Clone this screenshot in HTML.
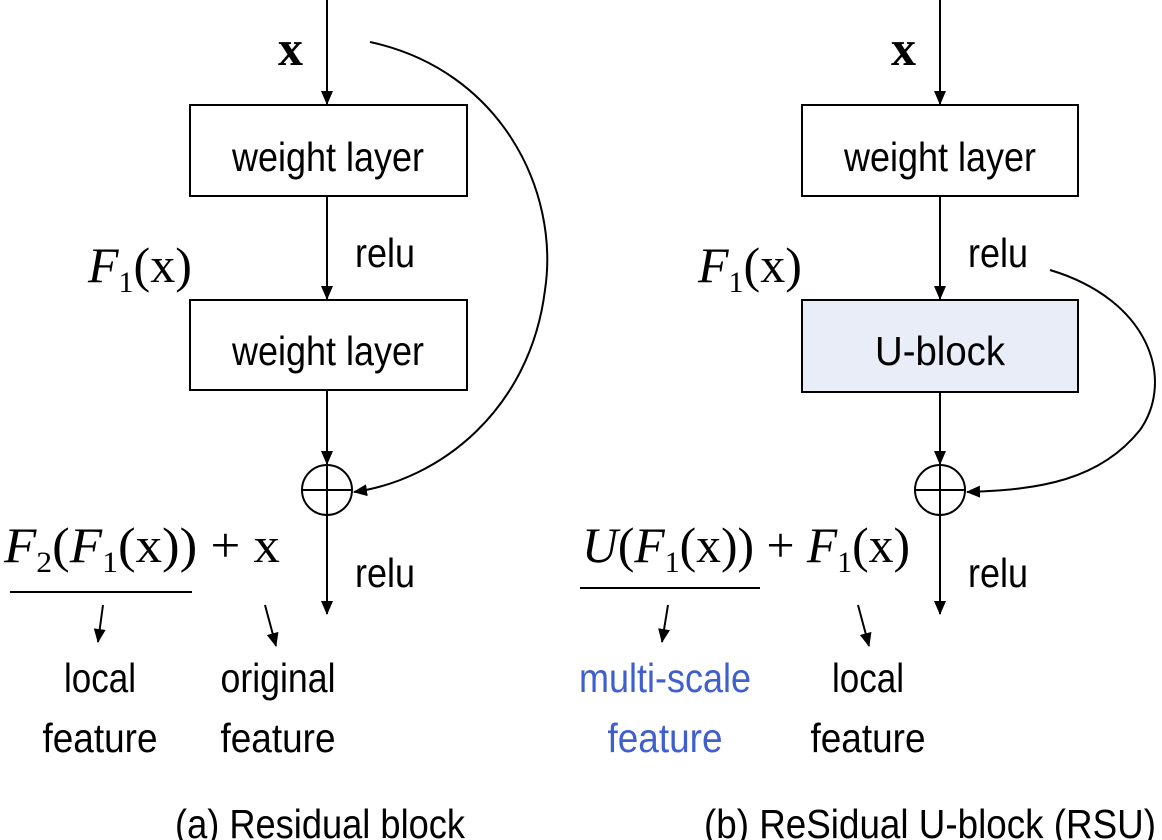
<!DOCTYPE html>
<html><head><meta charset="utf-8"><style>
html,body{margin:0;padding:0;background:#fff;}
svg{display:block;}
.t{font-family:"Liberation Sans",sans-serif;font-size:41px;fill:#000;}
.m{font-family:"Liberation Serif",serif;font-size:50px;fill:#000;}
</style></head><body>
<svg width="1162" height="840" viewBox="0 0 1162 840">
<defs>
<marker id="ah" markerWidth="14" markerHeight="14" refX="13" refY="7" orient="auto" markerUnits="userSpaceOnUse" viewBox="0 0 14 14">
<path d="M0,1 L14,7 L0,13 z" fill="#000"/></marker>
</defs>
<g stroke="#000" stroke-width="2" fill="none">
<line x1="327" y1="0" x2="327" y2="104" marker-end="url(#ah)"/>
<rect x="190" y="105" width="277" height="91" fill="#fff"/>
<line x1="327" y1="196" x2="327" y2="299" marker-end="url(#ah)"/>
<rect x="190" y="300" width="277" height="90" fill="#fff"/>
<line x1="327" y1="390" x2="327" y2="464" marker-end="url(#ah)"/>
<circle cx="327" cy="490" r="25"/>
<line x1="302" y1="490" x2="352" y2="490"/><line x1="327" y1="465" x2="327" y2="515"/>
<line x1="327" y1="515" x2="327" y2="614" marker-end="url(#ah)"/>
<path d="M370,42 C500,70 560,190 545,290 C530,410 440,480 354,492" marker-end="url(#ah)"/>
<line x1="10" y1="592" x2="192" y2="592"/>
<line x1="103" y1="605" x2="98" y2="642" marker-end="url(#ah)"/>
<line x1="265" y1="605" x2="276" y2="646" marker-end="url(#ah)"/>
<line x1="940" y1="0" x2="940" y2="104" marker-end="url(#ah)"/>
<rect x="802" y="105" width="276" height="91" fill="#fff"/>
<line x1="940" y1="196" x2="940" y2="299" marker-end="url(#ah)"/>
<rect x="802" y="300" width="276" height="92" fill="#e8edf8"/>
<line x1="940" y1="392" x2="940" y2="464" marker-end="url(#ah)"/>
<circle cx="940" cy="490" r="25"/>
<line x1="915" y1="490" x2="965" y2="490"/><line x1="940" y1="465" x2="940" y2="515"/>
<line x1="940" y1="515" x2="940" y2="614" marker-end="url(#ah)"/>
<path d="M1050,270 C1150,300 1175,380 1140,430 C1100,480 1040,490 967,492" marker-end="url(#ah)"/>
<line x1="580" y1="588" x2="760" y2="588"/>
<line x1="668" y1="605" x2="662" y2="642" marker-end="url(#ah)"/>
<line x1="858" y1="605" x2="869" y2="646" marker-end="url(#ah)"/>
</g>
<text class="m" x="278" y="65" font-weight="bold">x</text>
<text class="t" x="328" y="171" text-anchor="middle" textLength="192" lengthAdjust="spacingAndGlyphs">weight layer</text>
<text class="t" x="355" y="267" textLength="60" lengthAdjust="spacingAndGlyphs">relu</text>
<text class="m" x="88" y="282"><tspan font-style="italic">F</tspan><tspan font-size="30" dy="10">1</tspan><tspan dy="-10">(x)</tspan></text>
<text class="t" x="328" y="365" text-anchor="middle" textLength="192" lengthAdjust="spacingAndGlyphs">weight layer</text>
<text class="m" x="4" y="562" textLength="276" lengthAdjust="spacingAndGlyphs"><tspan font-style="italic">F</tspan><tspan font-size="30" dy="10">2</tspan><tspan dy="-10">(</tspan><tspan font-style="italic">F</tspan><tspan font-size="30" dy="10">1</tspan><tspan dy="-10">(x)) + x</tspan></text>
<text class="t" x="355" y="587" textLength="60" lengthAdjust="spacingAndGlyphs">relu</text>
<text class="t" x="100" y="692" text-anchor="middle" textLength="72" lengthAdjust="spacingAndGlyphs">local</text>
<text class="t" x="100" y="752" text-anchor="middle" textLength="115" lengthAdjust="spacingAndGlyphs">feature</text>
<text class="t" x="278" y="692" text-anchor="middle" textLength="115" lengthAdjust="spacingAndGlyphs">original</text>
<text class="t" x="278" y="752" text-anchor="middle" textLength="115" lengthAdjust="spacingAndGlyphs">feature</text>
<text class="t" x="320" y="838" text-anchor="middle" font-size="37" textLength="290" lengthAdjust="spacingAndGlyphs">(a) Residual block</text>
<text class="m" x="891" y="65" font-weight="bold">x</text>
<text class="t" x="940" y="171" text-anchor="middle" textLength="192" lengthAdjust="spacingAndGlyphs">weight layer</text>
<text class="t" x="968" y="267" textLength="60" lengthAdjust="spacingAndGlyphs">relu</text>
<text class="m" x="698" y="282"><tspan font-style="italic">F</tspan><tspan font-size="30" dy="10">1</tspan><tspan dy="-10">(x)</tspan></text>
<text class="t" x="940" y="365" text-anchor="middle" textLength="130" lengthAdjust="spacingAndGlyphs">U-block</text>
<text class="m" x="582" y="562" textLength="328" lengthAdjust="spacingAndGlyphs"><tspan font-style="italic">U</tspan>(<tspan font-style="italic">F</tspan><tspan font-size="30" dy="10">1</tspan><tspan dy="-10">(x)) + </tspan><tspan font-style="italic">F</tspan><tspan font-size="30" dy="10">1</tspan><tspan dy="-10">(x)</tspan></text>
<text class="t" x="968" y="587" textLength="60" lengthAdjust="spacingAndGlyphs">relu</text>
<text class="t" x="665" y="692" text-anchor="middle" textLength="172" lengthAdjust="spacingAndGlyphs" style="fill:#3f5fd0">multi-scale</text>
<text class="t" x="665" y="752" text-anchor="middle" textLength="115" lengthAdjust="spacingAndGlyphs" style="fill:#3f5fd0">feature</text>
<text class="t" x="868" y="692" text-anchor="middle" textLength="72" lengthAdjust="spacingAndGlyphs">local</text>
<text class="t" x="868" y="752" text-anchor="middle" textLength="115" lengthAdjust="spacingAndGlyphs">feature</text>
<text class="t" x="930" y="838" text-anchor="middle" font-size="37" textLength="452" lengthAdjust="spacingAndGlyphs">(b) ReSidual U-block (RSU)</text>
</svg>
</body></html>
